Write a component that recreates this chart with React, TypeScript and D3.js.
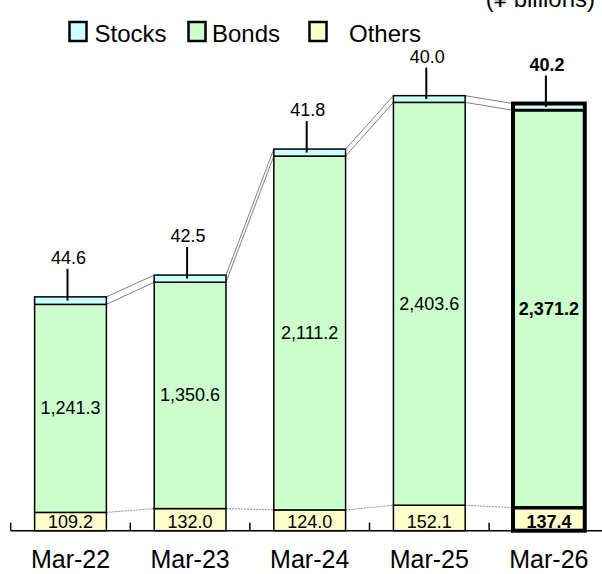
import React from "react";
import * as d3 from "d3";

const categories = ["Mar-22", "Mar-23", "Mar-24", "Mar-25", "Mar-26"];
const stocks = [44.6, 42.5, 41.8, 40.0, 40.2];
const bonds = [1241.3, 1350.6, 2111.2, 2403.6, 2371.2];
const others = [109.2, 132.0, 124.0, 152.1, 137.4];
const seriesNames = ["Stocks", "Bonds", "Others"];
const seriesColors = ["#CCFFFF", "#CCFFCC", "#FFFFCC"];
const unitLabel = "(¥ billions)";

const W = 602;
const H = 574;
const FONT = "'Liberation Sans', Arial, sans-serif";
const fmt = d3.format(",.1f");

export default function App() {
  const x = d3
    .scaleBand<string>()
    .domain(categories)
    .range([10.7, 608.7])
    .paddingInner(0.4)
    .paddingOuter(0.2);
  const y = d3.scaleLinear().domain([0, 3000]).range([530.7, 530.7 - 3000 * 0.1676]);
  const bw = x.bandwidth();
  const step = x.step();
  const last = categories.length - 1;

  const rows = categories.map((c, i) => {
    const o = others[i];
    const b = bonds[i];
    const s = stocks[i];
    return {
      c,
      i,
      x0: x(c) as number,
      yBase: y(0),
      yOthersTop: y(o),
      yBondsTop: y(o + b),
      yTop: y(o + b + s),
      o,
      b,
      s,
    };
  });

  const legendX = [69.5, 188.5, 309.5];
  const legendTextX = [94.5, 212, 349];

  return (
    <svg
      width={W}
      height={H}
      style={{ position: "absolute", left: 0, top: 0, background: "#fff" }}
      fontFamily={FONT}
    >
      <rect x={0} y={0} width={W} height={H} fill="#fff" />
      {/* unit label */}
      <text x={595} y={7} fontSize={24} textAnchor="end" fill="#000">
        {unitLabel}
      </text>
      {/* legend */}
      {seriesNames.map((n, k) => (
        <g key={n}>
          <rect
            x={legendX[k]}
            y={22}
            width={17}
            height={19}
            fill={seriesColors[k]}
            stroke="#000"
            strokeWidth={2.5}
          />
          <text x={legendTextX[k]} y={42} fontSize={24} fill="#000">
            {n}
          </text>
        </g>
      ))}

      {/* connectors */}
      {rows.slice(0, -1).map((r, k) => {
        const n = rows[k + 1];
        return (
          <g key={"conn" + k}>
            <line x1={r.x0 + bw} y1={r.yTop} x2={n.x0} y2={n.yTop} stroke="#808080" strokeWidth={1} />
            <line x1={r.x0 + bw} y1={r.yBondsTop} x2={n.x0} y2={n.yBondsTop} stroke="#808080" strokeWidth={1} />
            <line
              x1={r.x0 + bw}
              y1={r.yOthersTop}
              x2={n.x0}
              y2={n.yOthersTop}
              stroke="#909090"
              strokeWidth={1}
              strokeDasharray="2,1"
            />
          </g>
        );
      })}

      {/* bars */}
      {rows.map((r) => {
        const bold = r.i === last;
        const sw = 1.5;
        return (
          <g key={r.c}>
            <rect x={r.x0} y={r.yOthersTop} width={bw} height={r.yBase - r.yOthersTop} fill={seriesColors[2]} stroke="#000" strokeWidth={sw} />
            <rect x={r.x0} y={r.yBondsTop} width={bw} height={r.yOthersTop - r.yBondsTop} fill={seriesColors[1]} stroke="#000" strokeWidth={sw} />
            <rect x={r.x0} y={r.yTop} width={bw} height={r.yBondsTop - r.yTop} fill={seriesColors[0]} stroke="#000" strokeWidth={sw} />
            {bold && (
              <g>
                <line x1={r.x0} x2={r.x0 + bw} y1={r.yBondsTop} y2={r.yBondsTop} stroke="#000" strokeWidth={3} />
                <line x1={r.x0} x2={r.x0 + bw} y1={r.yOthersTop} y2={r.yOthersTop} stroke="#000" strokeWidth={3.5} />
                <rect x={r.x0} y={r.yTop} width={bw} height={r.yBase - r.yTop} fill="none" stroke="#000" strokeWidth={4} />
              </g>
            )}
            {/* leader line and stock label */}
            <line
              x1={r.x0 + bw / 2 - 3}
              x2={r.x0 + bw / 2 - 3}
              y1={r.yTop - 28}
              y2={(r.yTop + r.yBondsTop) / 2}
              stroke="#000"
              strokeWidth={2}
            />
            <text
              x={r.x0 + bw / 2 - 2}
              y={r.yTop - 33}
              fontSize={18}
              textAnchor="middle"
              fontWeight={bold ? "bold" : "normal"}
              fill="#000"
            >
              {fmt(r.s)}
            </text>
            {/* bonds label */}
            <text
              x={r.x0 + bw / 2}
              y={(r.yBondsTop + r.yOthersTop) / 2 + 6}
              fontSize={18}
              textAnchor="middle"
              fontWeight={bold ? "bold" : "normal"}
              fill="#000"
            >
              {fmt(r.b)}
            </text>
            {/* others label */}
            <text
              x={r.x0 + bw / 2}
              y={r.yBase - 2.5}
              fontSize={18}
              textAnchor="middle"
              fontWeight={bold ? "bold" : "normal"}
              fill="#000"
            >
              {fmt(r.o)}
            </text>
          </g>
        );
      })}

      {/* axis */}
      <line x1={10.7} x2={W} y1={y(0)} y2={y(0)} stroke="#000" strokeWidth={1.5} />
      {d3.range(categories.length + 1).map((k) => {
        const tx = 10.7 + k * step;
        return <line key={"t" + k} x1={tx} x2={tx} y1={y(0)} y2={y(0) - 8} stroke="#000" strokeWidth={1.5} />;
      })}
      {categories.map((c) => (
        <text key={"xl" + c} x={(x(c) as number) + bw / 2} y={568} fontSize={25} textAnchor="middle" fill="#000">
          {c}
        </text>
      ))}
    </svg>
  );
}
